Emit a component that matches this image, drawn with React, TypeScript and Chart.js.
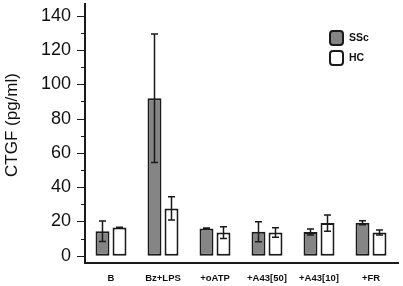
import React, { useEffect, useRef } from "react";
import { Chart, registerables } from "chart.js";

Chart.register(...registerables);

const categories = ["B", "Bz+LPS", "+oATP", "+A43[50]", "+A43[10]", "+FR"];
const sscMean = [14.3, 91.8, 15.8, 14.0, 13.8, 19.2];
const sscErr = [6.0, 37.5, 0.3, 5.8, 1.8, 1.2];
const hcMean = [16.4, 27.6, 13.5, 13.5, 19.0, 13.5];
const hcErr = [0.2, 6.8, 3.4, 2.8, 4.8, 1.5];
const yTicks = [0, 20, 40, 60, 80, 100, 120, 140];
const yMinorTicks = [10, 30, 50, 70, 90, 110, 130];

const FONT = "'Liberation Sans', Arial, sans-serif";
const DARK = "#1a1a1a";
const GREY = "#858585";

const overlay = {
  id: "overlay",
  afterDatasetsDraw(chart: any) {
    const ctx = chart.ctx;
    const y = chart.scales.y;
    const area = chart.chartArea;
    ctx.save();
    const errs = [sscErr, hcErr];
    const means = [sscMean, hcMean];
    ctx.strokeStyle = DARK;
    ctx.lineWidth = 1.5;
    [0, 1].forEach((di) => {
      const meta = chart.getDatasetMeta(di);
      meta.data.forEach((bar: any, i: number) => {
        const cx = bar.x;
        const top = y.getPixelForValue(means[di][i] + errs[di][i]);
        const bot = y.getPixelForValue(means[di][i] - errs[di][i]);
        ctx.beginPath();
        ctx.moveTo(cx, top);
        ctx.lineTo(cx, bot);
        ctx.moveTo(cx - 3.5, top);
        ctx.lineTo(cx + 3.5, top);
        ctx.moveTo(cx - 3.5, bot);
        ctx.lineTo(cx + 3.5, bot);
        ctx.stroke();
      });
    });
    ctx.strokeStyle = DARK;
    ctx.lineWidth = 2;
    ctx.beginPath();
    ctx.moveTo(area.left, area.top);
    ctx.lineTo(area.left, area.bottom);
    ctx.lineTo(area.right + 2, area.bottom);
    ctx.stroke();
    ctx.lineWidth = 1.2;
    ctx.beginPath();
    yTicks.forEach((v) => {
      const py = Math.round(y.getPixelForValue(v)) + 0.5;
      ctx.moveTo(area.left - 8, py);
      ctx.lineTo(area.left, py);
    });
    yMinorTicks.forEach((v) => {
      const py = Math.round(y.getPixelForValue(v)) + 0.5;
      ctx.moveTo(area.left - 4, py);
      ctx.lineTo(area.left, py);
    });
    ctx.stroke();
    ctx.save();
    ctx.translate(12, 125);
    ctx.rotate(-Math.PI / 2);
    ctx.fillStyle = "#111";
    ctx.font = `17px ${FONT}`;
    ctx.textAlign = "center";
    ctx.textBaseline = "middle";
    ctx.fillText("CTGF (pg/ml)", 0, 0);
    ctx.restore();
    const items = [
      { label: "SSc", fill: GREY, y: 31 },
      { label: "HC", fill: "#ffffff", y: 51 },
    ];
    items.forEach((it) => {
      const bx = 330, bw = 13, bh = 14;
      const r = 3;
      ctx.beginPath();
      ctx.moveTo(bx + r, it.y);
      ctx.lineTo(bx + bw - r, it.y);
      ctx.quadraticCurveTo(bx + bw, it.y, bx + bw, it.y + r);
      ctx.lineTo(bx + bw, it.y + bh - r);
      ctx.quadraticCurveTo(bx + bw, it.y + bh, bx + bw - r, it.y + bh);
      ctx.lineTo(bx + r, it.y + bh);
      ctx.quadraticCurveTo(bx, it.y + bh, bx, it.y + bh - r);
      ctx.lineTo(bx, it.y + r);
      ctx.quadraticCurveTo(bx, it.y, bx + r, it.y);
      ctx.closePath();
      ctx.fillStyle = it.fill;
      ctx.fill();
      ctx.lineWidth = 2;
      ctx.strokeStyle = DARK;
      ctx.stroke();
      ctx.fillStyle = "#111";
      ctx.font = `bold 10.5px ${FONT}`;
      ctx.textAlign = "left";
      ctx.textBaseline = "middle";
      ctx.fillText(it.label, 349, it.y + bh / 2 + 0.5);
    });
    ctx.restore();
  },
};

export default function App() {
  const ref = useRef<HTMLCanvasElement>(null);
  useEffect(() => {
    document.body.style.margin = "0";
    const chart = new Chart(ref.current!, {
      type: "bar",
      data: {
        labels: categories,
        datasets: [
          {
            label: "SSc",
            data: sscMean,
            backgroundColor: GREY,
            borderColor: DARK,
            borderWidth: 2,
            borderSkipped: false,
            barPercentage: 0.82,
            categoryPercentage: 0.654,
          },
          {
            label: "HC",
            data: hcMean,
            backgroundColor: "#ffffff",
            borderColor: DARK,
            borderWidth: 2,
            borderSkipped: false,
            barPercentage: 0.82,
            categoryPercentage: 0.654,
          },
        ],
      },
      options: {
        animation: false,
        responsive: false,
        maintainAspectRatio: false,
        layout: { padding: { top: 3, right: 6, left: 0, bottom: 0 } },
        plugins: { legend: { display: false }, tooltip: { enabled: false } },
        scales: {
          x: {
            grid: { display: false, drawTicks: false },
            border: { display: false },
            ticks: {
              color: "#111",
              font: { family: FONT, size: 9.5, weight: "bold" },
              padding: 10,
              maxRotation: 0,
              autoSkip: false,
            },
            afterFit: (s: any) => {
              s.height = 23;
              s.paddingLeft = 0;
              s.paddingRight = 0;
              s.paddingTop = 0;
              s.paddingBottom = 0;
            },
          },
          y: {
            min: -4.26,
            max: 147.4,
            grid: { display: false, drawTicks: false },
            border: { display: false },
            ticks: {
              color: "#111",
              font: { family: FONT, size: 18 },
              padding: 14,
            },
            afterBuildTicks: (s: any) => {
              s.ticks = yTicks.map((v) => ({ value: v }));
            },
            afterFit: (s: any) => {
              s.width = 85;
              s.paddingLeft = 0;
              s.paddingRight = 0;
              s.paddingTop = 0;
              s.paddingBottom = 0;
            },
          },
        },
      },
      plugins: [overlay],
    });
    return () => chart.destroy();
  }, []);
  return <canvas ref={ref} width={403} height={286} style={{ display: "block" }} />;
}
